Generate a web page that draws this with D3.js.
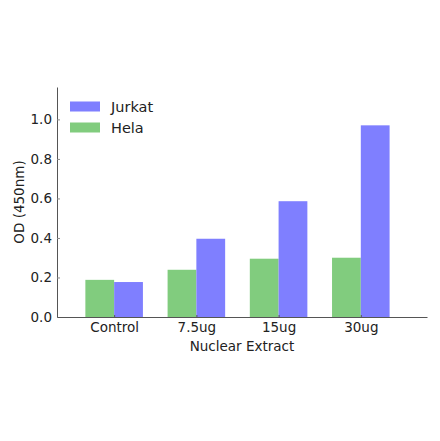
<!DOCTYPE html>
<html>
<head>
<meta charset="utf-8">
<script src="https://cdn.jsdelivr.net/npm/d3@7"></script>
<style>
  body { margin: 0; background: #fff; }
  svg text { font-family: "DejaVu Sans", sans-serif; fill: #222; }
</style>
</head>
<body>
<div id="chart"></div>
<script>
// data
const categories = ['Control', '7.5ug', '15ug', '30ug'];
const helaValues = [0.188, 0.239, 0.295, 0.300];
const jurkatValues = [0.177, 0.396, 0.586, 0.970];
const yTicks = [0.0, 0.2, 0.4, 0.6, 0.8, 1.0];

const W = 440, H = 441;
const margin = { left: 57, right: 13, top: 87, bottom: 124 };
const barWidth = 0.35;

const svg = d3.select('#chart')
    .append('svg')
    .attr('width', W)
    .attr('height', H);

const x = d3.scaleLinear()
    .domain([-0.345, 4.155])
    .range([margin.left, W - margin.right]);

const y = d3.scaleLinear()
    .domain([0, 1.164])
    .range([H - margin.bottom, margin.top]);

const series = [
    { name: 'Hela', values: helaValues, color: '#81cc7e', offset: 0 },
    { name: 'Jurkat', values: jurkatValues, color: '#7f7fff', offset: barWidth }
];

// bars
series.forEach(s => {
    svg.selectAll('.bar-' + s.name)
        .data(s.values)
        .enter()
        .append('rect')
        .attr('x', (d, i) => x(i + s.offset))
        .attr('y', d => y(d))
        .attr('width', x(barWidth) - x(0))
        .attr('height', d => y(0) - y(d))
        .style('fill', s.color);
});

// y axis
const yAxis = d3.axisLeft(y)
    .tickValues(yTicks)
    .tickFormat(d3.format('.1f'))
    .tickSizeInner(-3)
    .tickSizeOuter(0)
    .tickPadding(5);

const gy = svg.append('g')
    .attr('transform', `translate(${margin.left},0)`)
    .call(yAxis);
gy.select('.domain').attr('stroke', '#555');
gy.selectAll('.tick line').attr('stroke', '#888');
gy.selectAll('.tick text').style('font-size', '13.5px');

// x axis
const xAxis = d3.axisBottom(x)
    .tickValues(categories.map((c, i) => i + barWidth))
    .tickFormat((d, i) => categories[i])
    .tickSizeInner(-2)
    .tickSizeOuter(0)
    .tickPadding(5);

const gx = svg.append('g')
    .attr('transform', `translate(0,${y(0)})`)
    .call(xAxis);
gx.select('.domain').attr('stroke', '#555');
gx.selectAll('.tick line').attr('stroke', '#555');
gx.selectAll('.tick text').style('font-size', '13.5px');

// axis labels
svg.append('text')
    .attr('x', (margin.left + W - margin.right) / 2)
    .attr('y', 351)
    .attr('text-anchor', 'middle')
    .style('font-size', '13.5px')
    .text('Nuclear Extract');

svg.append('text')
    .attr('transform', `translate(24,${(margin.top + H - margin.bottom) / 2}) rotate(-90)`)
    .attr('text-anchor', 'middle')
    .style('font-size', '13.5px')
    .text('OD (450nm)');

// legend
const legendItems = [series[1], series[0]];
const legend = svg.append('g').attr('transform', 'translate(70,101.5)');
legendItems.forEach((s, i) => {
    const row = legend.append('g').attr('transform', `translate(0,${i * 21})`);
    row.append('rect')
        .attr('width', 30)
        .attr('height', 10)
        .style('fill', s.color);
    row.append('text')
        .attr('x', 41)
        .attr('y', 10.5)
        .style('font-size', '14.5px')
        .text(s.name);
});
</script>
</body>
</html>
